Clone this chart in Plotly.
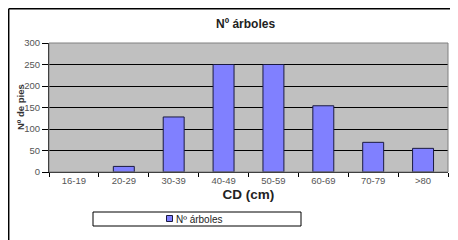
import plotly.graph_objects as go

categories = ["16-19", "20-29", "30-39", "40-49", "50-59", "60-69", "70-79", ">80"]
values = [0, 13, 128, 250, 250, 154, 69, 55]
y_ticks = [0, 50, 100, 150, 200, 250, 300]
series_name = "Nº árboles"

# page offset of the figure (default body margin)
OFF = 8
W, H = 450, 232
# plot area in page pixels: x 49..448, y 43..172
L, T = 49 - OFF, 43 - OFF
R = W - (448 - OFF)
B = H - (172 - OFF)
pw, ph = W - L - R, H - T - B

def px(x):  # page x -> paper
    return (x - OFF - L) / pw

def py(y):  # page y -> paper
    return (H - B - (y - OFF)) / ph

FONT = "Liberation Sans, Arial, sans-serif"

fig = go.Figure()
fig.add_trace(go.Bar(
    x=categories, y=values, name=series_name,
    marker=dict(color="#8080ff",
                line=dict(color="#1a1a40", width=[0 if v == 0 else 1 for v in values])),
    width=0.42, showlegend=False,
))

shapes = [
    dict(type="rect", xref="paper", yref="paper", x0=0, y0=0, x1=1, y1=1,
         line=dict(color="#808080", width=1), fillcolor="rgba(0,0,0,0)", layer="above"),
    dict(type="line", xref="paper", yref="paper", x0=px(8.7), y0=py(8.7), x1=px(470), y1=py(8.7),
         line=dict(color="black", width=1.5)),
    dict(type="line", xref="paper", yref="paper", x0=px(8.7), y0=py(8.7), x1=px(8.7), y1=py(250),
         line=dict(color="black", width=1.5)),
    dict(type="rect", xref="paper", yref="paper", x0=px(93), y0=py(212), x1=px(301), y1=py(226),
         line=dict(color="black", width=1), fillcolor="white"),
    dict(type="rect", xref="paper", yref="paper", x0=px(166.5), y0=py(215.5), x1=px(172.5), y1=py(221.5),
         line=dict(color="#1a1a40", width=1), fillcolor="#8080ff"),
]

annotations = [
    dict(text="<b>Nº árboles</b>", xref="paper", yref="paper", x=px(245), y=py(24),
         xanchor="center", yanchor="middle", showarrow=False,
         font=dict(family=FONT, size=12, color="#222")),
    dict(text=series_name, xref="paper", yref="paper", x=px(174), y=py(219),
         xanchor="left", yanchor="middle", showarrow=False,
         font=dict(family=FONT, size=10, color="#222")),
    dict(text="<b>Nº de pies</b>", xref="paper", yref="paper", x=px(20), y=py(107),
         xanchor="center", yanchor="middle", showarrow=False, textangle=-90,
         font=dict(family=FONT, size=9.5, color="#333")),
]

fig.update_layout(
    width=W, height=H,
    margin=dict(l=L, r=R, t=T, b=B, pad=0),
    paper_bgcolor="white", plot_bgcolor="#c0c0c0",
    font=dict(family=FONT, size=9, color="#555"),
    bargap=0.58,
    shapes=shapes, annotations=annotations,
    showlegend=False,
)
fig.update_xaxes(
    type="category", tickson="boundaries", ticks="outside", ticklen=4,
    tickcolor="black", showline=True, linecolor="black", linewidth=1,
    showgrid=False, tickfont=dict(family=FONT, size=9.5, color="#555"),
    automargin=False,
    title=dict(text="<b>CD (cm)</b>", font=dict(family=FONT, size=13.5, color="#222"), standoff=4),
)
fig.update_yaxes(
    range=[0, 300], tickvals=y_ticks, ticks="outside", ticklen=6,
    tickcolor="black", showline=True, linecolor="black", linewidth=1,
    showgrid=True, gridcolor="black", gridwidth=1, zeroline=False,
    tickfont=dict(family=FONT, size=9.5, color="#555"),
    automargin=False,
)

fig.write_html(
    "out.html",
    post_script="document.documentElement.style.overflow='hidden';document.body.style.overflow='hidden';",
)
